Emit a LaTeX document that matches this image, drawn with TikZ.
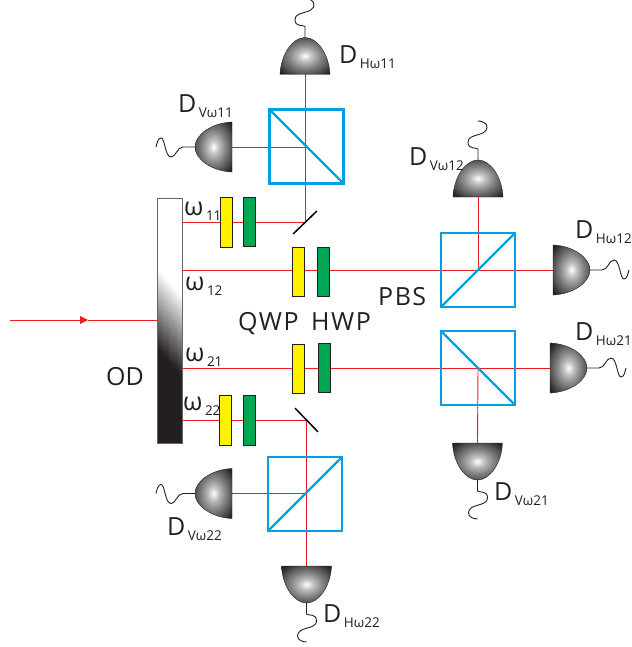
\documentclass[tikz,border=0pt]{standalone}
\usepackage{fontspec}
\setmainfont{Open Sans}
\usetikzlibrary{arrows.meta,backgrounds}
\definecolor{inkblack}{HTML}{231F20}
\definecolor{qwpyellow}{HTML}{FFF200}
\definecolor{hwpgreen}{HTML}{00A651}
\definecolor{pbsblue}{HTML}{009FDF}
\definecolor{beamred}{HTML}{ED1C24}
\pgfdeclareradialshading{domeshade}{\pgfpoint{0bp}{0bp}}{color(0bp)=(white); color(7bp)=(black!25); color(16bp)=(black!48); color(25bp)=(black!68); color(32bp)=(black!85); color(38bp)=(inkblack); color(72bp)=(inkblack)}
\newcommand{\domebody}{
  \shadedraw[shading=domeshade,draw=inkblack,line width=0.4] (-25,0) .. controls (-24,-21) and (-12,-37) .. (0,-37) .. controls (12,-37) and (24,-21) .. (25,0) -- cycle;
  \coordinate (-base) at (0,0);
}
\newcommand{\lbl}[2]{#1\kern2.5pt\raisebox{-5pt}{\fontsize{13.5}{14}\selectfont #2}}
\tikzset{
  beam/.style={draw=beamred,line width=0.9},
  wire/.style={draw=inkblack,line width=0.9},
  qwp/.style={draw=inkblack,line width=0.8,fill=qwpyellow,minimum width=12,minimum height=49.5,inner sep=0},
  hwp/.style={draw=inkblack,line width=0.8,fill=hwpgreen,minimum width=12.5,minimum height=49.5,inner sep=0},
  pbs/.style={draw=pbsblue,line width=2.4,minimum size=74,inner sep=0,outer sep=0},
  split/.style={draw=pbsblue,line width=2.4},
  mirror/.style={draw=black,line width=1.5,minimum width=33,minimum height=0,inner sep=0,outer sep=0},
  odbar/.style={minimum width=25,minimum height=245,inner sep=0,outer sep=0},
  txt/.style={anchor=base west,inner sep=0,text=inkblack,font=\fontsize{25}{25}\selectfont},
  wide/.style={font=\fontsize{25}{25}\selectfont\addfontfeatures{LetterSpace=6}},
  detwave/.pic={
    \domebody
    \draw[wire] (0,-37) -- (0,-49) .. controls (0,-55) and (-10,-56) .. (-10,-61) .. controls (-10,-67) and (9,-67) .. (9,-71) .. controls (9,-74) and (4,-75) .. (0,-76);
  },
  detcurl/.pic={
    \domebody
    \draw[wire] (0,-37) -- (0,-48) .. controls (-2,-50) and (-10,-47) .. (-10,-55) .. controls (-10,-64) and (9,-60) .. (9,-70) .. controls (9,-74) and (4,-76) .. (0,-76);
  }
}
\begin{document}
\begin{tikzpicture}[x=1pt,y=-1pt]
\useasboundingbox (0,0) rectangle (631,647);

% slab
\node[odbar] (od) at (169.5,320.5) {};
\foreach \k [evaluate=\k as \yy using 267+2*\k, evaluate=\k as \pct using 2.5*\k] in {0,...,40}
  \fill[inkblack!\pct!white] (157,\yy) -- (182,\yy+28) -- (182,\yy+30.5) -- (157,\yy+2.5) -- cycle;
\fill[inkblack] (157,347) -- (182,375) -- (od.south east) -- (od.south west) -- cycle;
\draw[black!60,line width=1] (od.north west) rectangle (od.south east);

% plates
\node[qwp] (q11) at (226,222.5) {};
\node[hwp] (h11) at (249.5,222) {};
\node[qwp] (q12) at (298.5,272) {};
\node[hwp] (h12) at (323.5,272) {};
\node[qwp] (q21) at (298,369) {};
\node[hwp] (h21) at (324.5,368) {};
\node[qwp] (q22) at (225.5,420.5) {};
\node[hwp] (h22) at (249.5,420.5) {};

% cubes
\node[pbs] (c1) at (306.5,146.5) {};
\node[pbs] (c2) at (478,270) {};
\node[pbs] (c3) at (478,368) {};
\node[pbs] (c4) at (305,494) {};
\draw[split] (c1.north west) -- (c1.south east);
\draw[split] (c2.south west) -- (c2.north east);
\draw[split] (c3.north west) -- (c3.south east);
\draw[split] (c4.south west) -- (c4.north east);

% mirrors
\node[mirror,rotate=44] (m11) at (305,222.5) {};
\node[mirror,rotate=-46] (m22) at (306.5,420) {};

% detectors
\pic (dh11) at (305,74.5) {detcurl};
\pic[rotate=90] (dv11) at (232,147) {detwave};
\pic (dv12) at (478,197) {detcurl};
\pic[rotate=-90] (dh12) at (553,270) {detwave};
\pic[rotate=-90] (dh21) at (550,368) {detwave};
\pic[rotate=180] (dv21) at (477.5,443) {detcurl};
\pic[rotate=90] (dv22) at (232,493.5) {detwave};
\pic[rotate=180] (dh22) at (306.5,566) {detcurl};

% beams
\coordinate (src) at (10,320);
\coordinate (arr) at (88,320);
\begin{scope}[on background layer]
\draw[beam,-{Triangle[length=8,width=8]}] (src) -- (arr);
\draw[beam] (arr) -- (src -| od.west);
\draw[beam] (od.east |- m11) -- (m11.center);
\draw[beam] (od.east |- dh12-base) -- (dh12-base);
\draw[beam] (od.east |- dh21-base) -- (dh21-base);
\draw[beam] (od.east |- m22) -- (m22.center);
\draw[beam] (m11.center) -- (dh11-base);
\draw[beam] (dv11-base) -- (dv11-base -| m11);
\draw[beam] (c2.center) -- (dv12-base);
\draw[beam] (c3.center) -- (dv21-base);
\draw[beam] (m22.center) -- (dh22-base);
\draw[beam] (dv22-base) -- (dv22-base -| m22);
\end{scope}

% labels
\node[txt] (lh11) at (339,64) {\lbl{D}{Hω11}};
\node[txt] (lv11) at (178,113) {\lbl{D}{Vω11}};
\node[txt] (lv12) at (409,166) {\lbl{D}{Vω12}};
\node[txt] (lh12) at (575,238) {\lbl{D}{Hω12}};
\node[txt] (lh21) at (575,340) {\lbl{D}{Hω21}};
\node[txt] (lv21) at (494,500) {\lbl{D}{Vω21}};
\node[txt] (lv22) at (167,535) {\lbl{D}{Vω22}};
\node[txt] (lh22) at (323,622) {\lbl{D}{Hω22}};
\node[txt] (w11) at (184,215) {\lbl{ω}{11}};
\node[txt] (w12) at (185,290) {\lbl{ω}{12}};
\node[txt] (w21) at (185,361) {\lbl{ω}{21}};
\node[txt] (w22) at (183,410) {\lbl{ω}{22}};
\node[txt] (lod) at (106,385) {OD};
\node[txt,wide] (lqwp) at (238,330) {QWP};
\node[txt,wide] (lhwp) at (311,330) {HWP};
\node[txt,wide] (lpbs) at (378,305) {PBS};
\end{tikzpicture}
\end{document}
